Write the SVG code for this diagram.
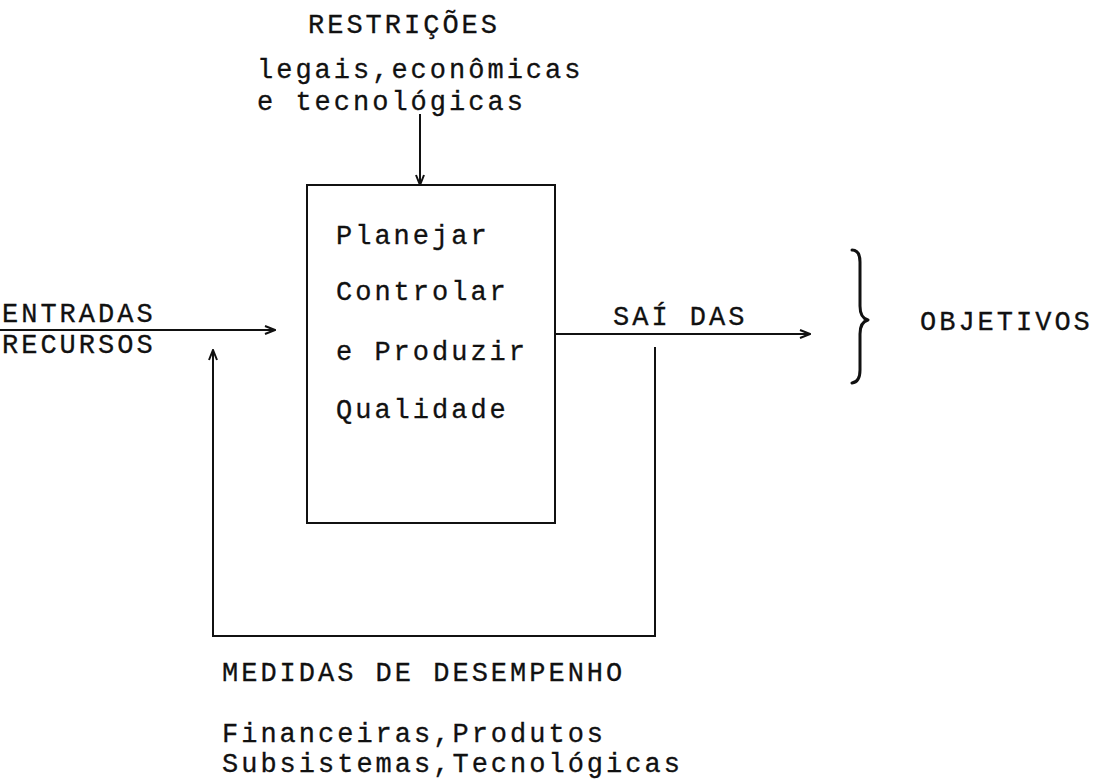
<svg xmlns="http://www.w3.org/2000/svg" width="1097" height="782" viewBox="0 0 1097 782">
  <defs>
    <style>
      .t { font-family: "Liberation Mono", "Courier New", monospace; font-size: 27px; letter-spacing: 3px; fill: #111; stroke: #111; stroke-width: 0.3; }
      .ln { fill: none; stroke: #111; stroke-width: 2; }
      .box { fill: none; stroke: #111; stroke-width: 2; }
      .brace { fill: none; stroke: #111; stroke-width: 3; stroke-linecap: round; stroke-linejoin: round; }
    </style>
    <marker id="arr" viewBox="0 0 12 10" refX="11" refY="5" markerWidth="12" markerHeight="10" markerUnits="userSpaceOnUse" orient="auto">
      <path d="M1,1 L11,5 L1,9" fill="none" stroke="#111" stroke-width="2"/>
    </marker>
  </defs>
  <rect width="1097" height="782" fill="#fff"/>

  <!-- restrictions label -->
  <g id="restricoes">
    <text class="t" x="308" y="33">RESTRIÇÕES</text>
    <text class="t" x="257" y="78">legais,econômicas</text>
    <text class="t" x="257" y="110">e tecnológicas</text>
  </g>

  <!-- central process block -->
  <g id="processo">
    <rect class="box" x="307" y="185" width="248" height="338"/>
    <text class="t" x="336" y="244">Planejar</text>
    <text class="t" x="336" y="300">Controlar</text>
    <text class="t" x="336" y="360">e Produzir</text>
    <text class="t" x="336" y="418">Qualidade</text>
  </g>

  <g id="entradas">
    <text class="t" x="2" y="322">ENTRADAS</text>
    <text class="t" x="2" y="353">RECURSOS</text>
  </g>

  <g id="saidas">
    <text class="t" x="613" y="325">SAÍ DAS</text>
  </g>

  <g id="objetivos">
    <path class="brace" d="M852,250 Q860,250 860,262 L860,306 Q860,318 868,320 Q860,322 860,334 L860,370 Q860,382 852,383"/>
    <text class="t" x="920" y="330">OBJETIVOS</text>
  </g>

  <g id="medidas">
    <text class="t" x="222" y="681">MEDIDAS DE DESEMPENHO</text>
    <text class="t" x="222" y="742">Financeiras,Produtos</text>
    <text class="t" x="222" y="772">Subsistemas,Tecnológicas</text>
  </g>

  <!-- connectors -->
  <g id="connectors">
    <line class="ln" x1="420" y1="114" x2="420" y2="185" marker-end="url(#arr)"/>
    <line class="ln" x1="0" y1="330" x2="275" y2="330" marker-end="url(#arr)"/>
    <line class="ln" x1="555" y1="334" x2="810" y2="334" marker-end="url(#arr)"/>
    <polyline class="ln" points="655,347 655,636 213,636 213,350" marker-end="url(#arr)"/>
  </g>
</svg>
